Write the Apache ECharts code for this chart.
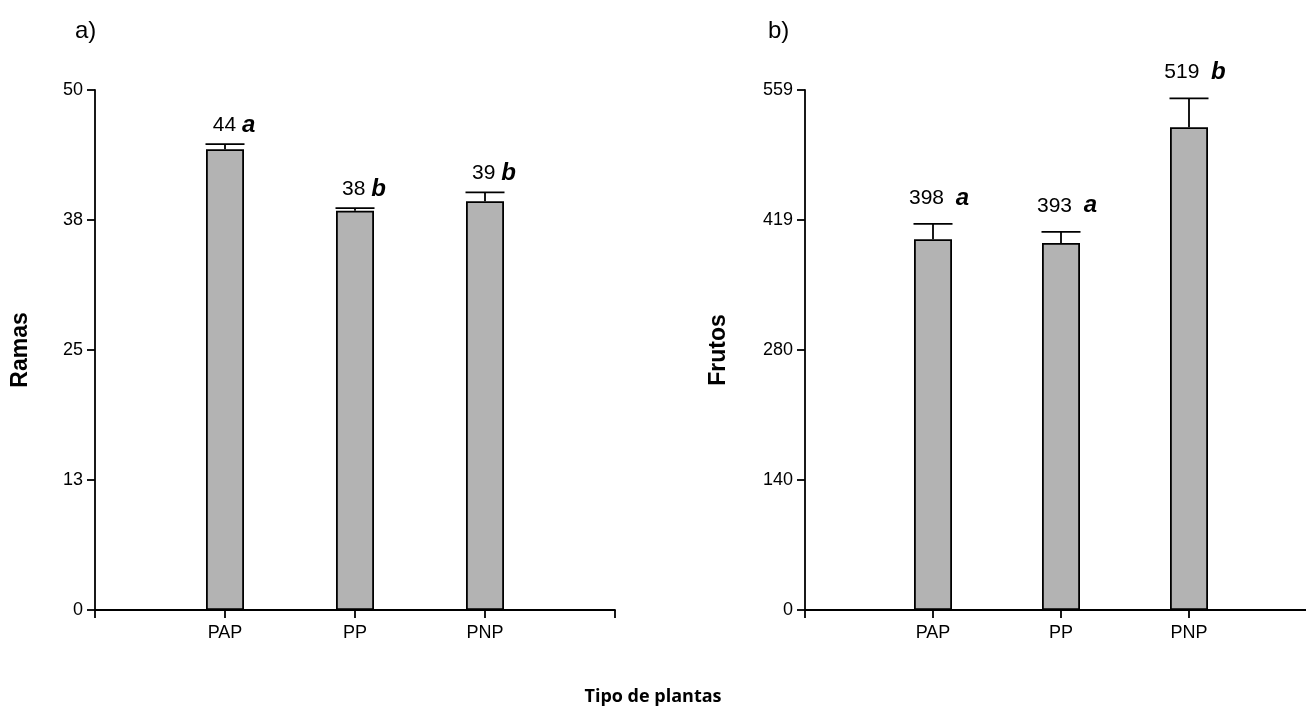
<!DOCTYPE html>
<html>
<head>
<meta charset="utf-8">
<script src="https://cdn.jsdelivr.net/npm/echarts@6/dist/echarts.min.js"></script>
<style>html,body{margin:0;padding:0;background:#fff}#c{width:1306px;height:723px}</style>
</head>
<body>
<div id="c"></div>
<script>
// ---- data ----
var categories = ['PAP', 'PP', 'PNP'];
var ramasValues = [44.3, 38.4, 39.3];
var ramasErrors = [0.5, 0.25, 0.85];
var ramasLabels = ['44', '38', '39'];
var ramasLetters = ['a', 'b', 'b'];
var ramasTicks = [0, 12.5, 25, 37.5, 50];

var frutosValues = [398.5, 394.5, 519];
var frutosErrors = [16.5, 12, 31];
var frutosLabels = ['398', '393', '519'];
var frutosLetters = ['a', 'a', 'b'];
var frutosTicks = [0, 139.75, 279.5, 419.25, 559];

// ---- build ----
var FONT = '"Liberation Sans", Arial, sans-serif';
var axisCats = [''].concat(categories, ['']);
function padded(arr) { return ['-'].concat(arr, ['-']); }
function errData(vals, errs, labs, lets) {
  return vals.map(function (v, i) { return [i + 1, v, errs[i], labs[i], lets[i]]; });
}
var errLeft = errData(ramasValues, ramasErrors, ramasLabels, ramasLetters);
var errRight = errData(frutosValues, frutosErrors, frutosLabels, frutosLetters);

function makeRender(src, sep, dx, dy) {
  return function (params, api) {
    var idx = api.value(0), v = api.value(1), e = api.value(2);
    var item = src[params.dataIndex];
    var p0 = api.coord([idx, v]);
    var p1 = api.coord([idx, v + e]);
    var hw = 19.5;
    var ls = { stroke: '#000', lineWidth: 1.8 };
    return {
      type: 'group',
      children: [
        { type: 'line', shape: { x1: p0[0], y1: p0[1], x2: p1[0], y2: p1[1] }, style: ls },
        { type: 'line', shape: { x1: p1[0] - hw, y1: p1[1], x2: p1[0] + hw, y2: p1[1] }, style: ls },
        { type: 'text', x: p1[0] + dx, y: p1[1] - dy,
          style: { text: '{n|' + item[3] + '}' + sep + '{l|' + item[4] + '}',
            align: 'center', verticalAlign: 'bottom',
            rich: {
              n: { fontSize: 21, fontFamily: FONT, fill: '#000' },
              l: { fontSize: 24, fontFamily: FONT, fontWeight: 'bold', fontStyle: 'italic', fill: '#000' }
            },
            fontSize: 21, fontFamily: FONT, fill: '#000' } }
      ]
    };
  };
}

function yAxis(grid, ticks, name, gap) {
  var step = ticks[1] - ticks[0];
  return {
    type: 'value', gridIndex: grid, min: ticks[0], max: ticks[ticks.length - 1], interval: step,
    name: name, nameLocation: 'middle', nameGap: gap, nameRotate: 90,
    nameTextStyle: { fontSize: 23, fontWeight: 'bold', fontFamily: FONT, color: '#000' },
    axisLine: { show: true, lineStyle: { color: '#000', width: 1.8 } },
    axisTick: { show: true, length: 8, lineStyle: { color: '#000', width: 1.8 } },
    axisLabel: { fontSize: 18, fontFamily: FONT, color: '#000', margin: 12,
      formatter: function (v) { return String(Math.round(v)); } },
    splitLine: { show: false }
  };
}
function xAxis(grid) {
  return {
    type: 'category', gridIndex: grid, data: axisCats, boundaryGap: false,
    axisLine: { lineStyle: { color: '#000', width: 1.8 } },
    axisTick: { show: true, length: 8, interval: 0, lineStyle: { color: '#000', width: 1.8 } },
    axisLabel: { fontSize: 18, fontFamily: FONT, color: '#000', margin: 14, interval: 0 }
  };
}
var barStyle = { color: '#b3b3b3', borderColor: '#000', borderWidth: 1.8 };

var chart = echarts.init(document.getElementById('c'), null, { renderer: 'canvas' });
chart.setOption({
  animation: false,
  backgroundColor: '#fff',
  grid: [
    { left: 95, top: 90, width: 520, bottom: 113, outerBoundsMode: 'none', containLabel: false },
    { left: 805, top: 90, width: 512, bottom: 113, outerBoundsMode: 'none', containLabel: false }
  ],
  xAxis: [xAxis(0), xAxis(1)],
  yAxis: [yAxis(0, ramasTicks, 'Ramas', 63), yAxis(1, frutosTicks, 'Frutos', 75)],
  graphic: [
    { type: 'text', left: 75, top: 19, style: { text: 'a)', fontSize: 24, fontFamily: FONT, fill: '#000' } },
    { type: 'text', left: 768, top: 19, style: { text: 'b)', fontSize: 24, fontFamily: FONT, fill: '#000' } },
    { type: 'text', left: 'center', top: 688, style: { text: 'Tipo de plantas', fontSize: 18, fontWeight: 'bold', fontFamily: '"Open Sans", "Noto Sans", sans-serif', fill: '#000' } }
  ],
  series: [
    { type: 'bar', xAxisIndex: 0, yAxisIndex: 0, data: padded(ramasValues), barWidth: 38, itemStyle: barStyle },
    { type: 'custom', xAxisIndex: 0, yAxisIndex: 0, data: errLeft, renderItem: makeRender(errLeft, ' ', 9, 7), z: 5 },
    { type: 'bar', xAxisIndex: 1, yAxisIndex: 1, data: padded(frutosValues), barWidth: 38, itemStyle: barStyle },
    { type: 'custom', xAxisIndex: 1, yAxisIndex: 1, data: errRight, renderItem: makeRender(errRight, '  ', 6, 14), z: 5 }
  ]
});
</script>
</body>
</html>
